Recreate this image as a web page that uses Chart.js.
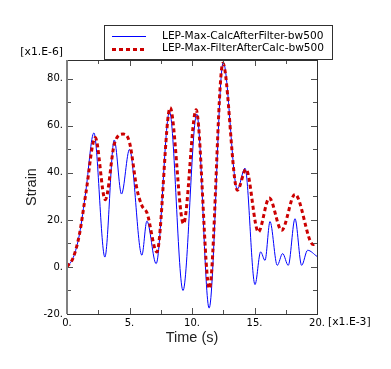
<!DOCTYPE html>
<html>
<head>
<meta charset="utf-8">
<script src="https://cdn.jsdelivr.net/npm/chart.js@4.4.0/dist/chart.umd.min.js"></script>
<style>
  html, body { margin: 0; padding: 0; background: #fff; }
</style>
</head>
<body>
<canvas id="myChart" width="391" height="369"></canvas>
<script>
// time in ms ([x1.E-3] s), strain in micro-strain ([x1.E-6])
var calcTime   = [0, 0.5, 1.0, 1.5, 2.15, 3.03, 3.78, 4.36, 5.0, 5.99, 6.39, 7.13, 8.2, 9.28, 10.38, 11.37, 12.5, 13.63, 14.24, 15.04, 15.49, 15.84, 16.24, 16.82, 17.25, 17.7, 18.24, 18.77, 19.25, 20];
var calcStrain = [0, 4, 14, 32, 57, 4.2, 54, 31, 50, 5, 19.5, 1.4, 66, -10, 65, -17.5, 87, 33, 42, -7.5, 6.4, 2.8, 19.3, 0.7, 5.7, 0.7, 20.5, 0.7, 7.1, 4.5];

var filtTime   = [0, 0.5, 1.0, 1.5, 2.26, 3.06, 3.8, 4.5, 5.0, 5.6, 6.0, 6.4, 7.19, 8.25, 9.32, 10.33, 11.39, 12.47, 13.63, 14.32, 15.31, 16.18, 17.17, 18.24, 19.7, 20];
var filtStrain = [0, 4, 14, 31, 55, 28.6, 52.5, 56.5, 53, 33, 26, 23, 6.4, 67.7, 18.4, 66.8, -9.2, 86.6, 32.6, 41.5, 14.9, 29.3, 15.6, 30.9, 9.5, 9.8];

var seriesLabels = ['LEP-Max-CalcAfterFilter-bw500', 'LEP-Max-FilterAfterCalc-bw500'];
var xTicks = [0, 5, 10, 15, 20];
var yTicks = [-20, 0, 20, 40, 60, 80];

var tickFont = { family: 'DejaVu Sans', size: 10 };

function toPoints(xs, ys) {
    return xs.map(function (t, i) { return { x: t, y: ys[i] }; });
}

// frame with inward ticks on all four sides
var frame = {
    id: 'frame',
    afterDatasetsDraw: function (chart) {
        var ctx = chart.ctx, a = chart.chartArea, xs = chart.scales.x, ys = chart.scales.y;
        ctx.save();
        ctx.strokeStyle = '#505050';
        ctx.lineWidth = 1;
        ctx.beginPath();
        function seg(x1, y1, x2, y2) { ctx.moveTo(x1, y1); ctx.lineTo(x2, y2); }
        yTicks.forEach(function (v, i) {
            var py = Math.round(ys.getPixelForValue(v)) + 0.5;
            seg(a.left, py, a.left + 6, py);
            seg(a.right, py, a.right - 6, py);
            if (i < yTicks.length - 1) {
                var pm = Math.round(ys.getPixelForValue((v + yTicks[i + 1]) / 2)) + 0.5;
                seg(a.left, pm, a.left + 4, pm);
                seg(a.right, pm, a.right - 4, pm);
            }
        });
        xTicks.forEach(function (v, i) {
            var px = Math.round(xs.getPixelForValue(v)) + 0.5;
            seg(px, a.bottom, px, a.bottom - 6);
            seg(px, a.top, px, a.top + 6);
            if (i < xTicks.length - 1) {
                var pm = Math.round(xs.getPixelForValue((v + xTicks[i + 1]) / 2)) + 0.5;
                seg(pm, a.bottom, pm, a.bottom - 4);
                seg(pm, a.top, pm, a.top + 4);
            }
        });
        ctx.stroke();

        ctx.strokeStyle = '#303030';
        ctx.strokeRect(Math.round(a.left) + 0.5, Math.round(a.top) + 0.5,
            Math.round(a.right - a.left), Math.round(a.bottom - a.top));
        ctx.strokeStyle = '#808080';
        ctx.lineWidth = 2;
        ctx.beginPath();
        seg(Math.round(a.left), a.top, Math.round(a.left), a.bottom);
        ctx.stroke();

        // exponent labels
        ctx.fillStyle = '#000';
        ctx.font = '10.8px "DejaVu Sans"';
        ctx.textBaseline = 'middle';
        ctx.textAlign = 'right';
        ctx.fillText('[x1.E-6]', a.left - 4, a.top - 8);
        ctx.textAlign = 'left';
        ctx.textBaseline = 'top';
        ctx.fillText('[x1.E-3]', a.right + 11, a.bottom + 3);
        ctx.restore();
    },
    afterDraw: function (chart) {
        // legend box
        var ctx = chart.ctx;
        var ds = chart.data.datasets;
        ctx.save();
        ctx.fillStyle = '#fff';
        ctx.fillRect(105, 26, 227, 33);
        ctx.strokeStyle = '#303030';
        ctx.lineWidth = 1;
        ctx.strokeRect(104.5, 25.5, 228, 34);
        ctx.font = '10.6px "DejaVu Sans"';
        ctx.fillStyle = '#000';
        ctx.textBaseline = 'middle';
        ctx.textAlign = 'left';
        var rows = [36, 48];
        ds.forEach(function (d, i) {
            ctx.beginPath();
            ctx.strokeStyle = d.borderColor;
            ctx.lineWidth = d.borderWidth;
            ctx.setLineDash(d.borderDash || []);
            var ly = i === 0 ? rows[i] + 0.5 : rows[i] + 1.5;
            ctx.moveTo(112, ly);
            ctx.lineTo(146, ly);
            ctx.stroke();
            ctx.setLineDash([]);
            ctx.fillText(seriesLabels[i], 162, rows[i]);
        });
        ctx.restore();
    }
};

var myChart = new Chart(document.getElementById('myChart'), {
    type: 'line',
    data: {
        datasets: [{
            label: seriesLabels[0],
            data: toPoints(calcTime, calcStrain),
            borderColor: '#0000ff',
            borderWidth: 1,
            pointRadius: 0,
            cubicInterpolationMode: 'monotone',
            fill: false,
            order: 1
        }, {
            label: seriesLabels[1],
            data: toPoints(filtTime, filtStrain),
            borderColor: '#cc0000',
            borderWidth: 3,
            borderDash: [4, 3],
            pointRadius: 0,
            cubicInterpolationMode: 'monotone',
            fill: false,
            order: 0
        }]
    },
    options: {
        responsive: false,
        animation: false,
        devicePixelRatio: 1,
        layout: { padding: { top: 60, right: 74, bottom: 0, left: 0 } },
        plugins: {
            legend: { display: false },
            tooltip: { enabled: false }
        },
        scales: {
            x: {
                type: 'linear',
                min: 0,
                max: 20,
                grid: { display: false, drawTicks: false },
                border: { display: false },
                afterBuildTicks: function (scale) {
                    scale.ticks = xTicks.map(function (v) { return { value: v }; });
                },
                afterFit: function (scale) { scale.height = 55; },
                ticks: {
                    font: tickFont,
                    color: '#000',
                    padding: 3,
                    maxRotation: 0,
                    autoSkip: false,
                    callback: function (v) { return v + '.'; }
                },
                title: {
                    display: true,
                    text: 'Time (s)',
                    color: '#222',
                    font: { family: 'Liberation Sans', size: 14.5 },
                    padding: { top: 0, bottom: 22 }
                }
            },
            y: {
                type: 'linear',
                min: -20,
                max: 88,
                grid: { display: false, drawTicks: false },
                border: { display: false },
                afterBuildTicks: function (scale) {
                    scale.ticks = yTicks.map(function (v) { return { value: v }; });
                },
                afterFit: function (scale) { scale.width = 67; },
                ticks: {
                    font: tickFont,
                    color: '#000',
                    padding: 4,
                    callback: function (v) { return v + '.'; }
                },
                title: {
                    display: true,
                    text: 'Strain',
                    color: '#222',
                    font: { family: 'Liberation Sans', size: 14.5 },
                    padding: { top: 23, bottom: 0 }
                }
            }
        }
    },
    plugins: [frame]
});
</script>
</body>
</html>
